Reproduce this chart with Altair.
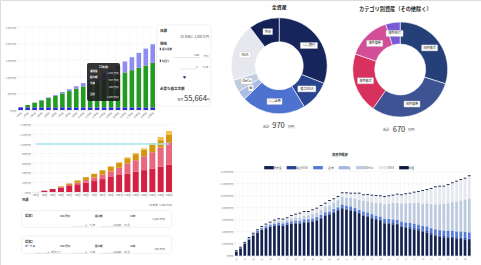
import altair as alt
import pandas as pd

FONT = "Noto Sans CJK JP"
W, H = 481, 265

# ---------------- Chart A : 目標シミュレーション (top-left) ----------------
a_years = ["1年後", "2年後", "3年後", "4年後", "5年後", "6年後", "7年後", "8年後", "9年後", "10年後",
           "11年後", "12年後", "13年後", "14年後", "15年後", "16年後", "17年後", "18年後", "19年後", "20年後"]
a_series = ["元本", "積立額", "運用益"]
a_colors = ["#2b2bd9", "#239b23", "#8d8def"]
a_base = [80, 80, 80, 80, 80, 80, 80, 80, 80, 80, 80, 80, 80, 80, 80, 80, 80, 80, 80, 80]
a_contrib = [0, 70, 140, 210, 280, 350, 420, 490, 560, 630, 700, 770, 840, 910, 980, 1050, 1120, 1190, 1260, 1340]
a_gain = [0, 0, 5, 10, 15, 25, 40, 55, 75, 100, 120, 150, 185, 225, 270, 330, 390, 450, 510, 560]
a_ticks = [0, 500, 1000, 1500, 2000, 2500]

# ---------------- Chart B : 積立シミュレーション (middle-left) ----------------
b_years = ["0年目", "1年目", "2年目", "3年目", "4年目", "5年目", "6年目", "7年目", "8年目", "9年目",
           "10年目", "11年目", "12年目", "13年目", "14年目", "15年目", "16年目"]
b_series = ["元本", "投資1", "投資2", "利益"]
b_colors = ["#d42143", "#e8697f", "#d4960c", "#f3c14f"]
b_red = [0, 28, 62, 90, 124, 159, 193, 228, 269, 310, 352, 386, 420, 455, 490, 531, 572]
b_pink = [0, 0, 0, 13, 21, 34, 55, 75, 97, 124, 151, 207, 242, 290, 338, 393, 462]
b_gold = [0, 0, 0, 14, 30, 45, 60, 75, 85, 90, 100, 110, 125, 135, 150, 155, 160]
b_light = [0, 0, 0, 0, 0, 0, 0, 0, 0, 10, 15, 20, 25, 30, 40, 65, 76]
b_goal = 1000
b_ticks = [0, 200, 400, 600, 800, 1000, 1200, 1400]

# ---------------- Donut 1 : 全資産 ----------------
d1_names = ["○○銀行", "積立NISA", "○○証券", "金", "iDeCo", "NISA", "外国"]
d1_values = [300, 100, 210, 30, 40, 190, 100]
d1_colors = ["#16255b", "#2a4590", "#4d72d0", "#a9bde8", "#c0cde0", "#e6e8ee", "#132156"]
d1_boxw = [8.5, 9, 7.5, 2.6, 5.5, 6, 4.8]

# ---------------- Donut 2 : カテゴリ別資産 ----------------
d2_names = ["国内株式", "国内債券", "海外株式", "海外債券", "海外REIT"]
d2_values = [200, 200, 138, 99, 33]
d2_colors = ["#253f78", "#3d5394", "#d8315e", "#d24f98", "#7b5bd5"]
d2_boxw = [8, 8, 8, 8, 8.5]

# ---------------- Chart C : 資産別推移 ----------------
c_periods = ["25", "26", "27", "28", "29", "30", "31", "32", "33", "34", "35", "36", "37", "38",
             "39", "40", "41", "42", "43", "44", "45", "46", "47", "48", "49", "50", "51", "52",
             "53", "54", "55", "56", "57", "58", "59", "60", "61", "62", "63", "64", "65", "66",
             "67", "68", "69", "70", "71", "72", "73", "74", "75", "76", "77", "78", "79", "80"]
c_series = ["預貯金", "積立NISA", "○○証券", "金", "iDeCo", "NISA", "外国"]
c_colors = ["#14224f", "#26449a", "#5478d4", "#a2b6e4", "#bccadf", "#e5e8ee", "#0e1a42"]
c_deposit = [670, 1220, 1950, 2670, 3340, 3840, 4280, 4560, 4780, 4950,
             5060, 4950, 5120, 5280, 5390, 5340, 5560, 5560, 5670, 5900,
             6230, 6670, 6780, 7170, 7450, 7900, 7700, 7560, 7280, 6950,
             6670, 6500, 6230, 5950, 5780, 5390, 5340, 5230, 5120, 4840,
             4670, 4560, 4390, 4230, 4000, 3890, 3560, 3340, 3170, 3060,
             3000, 2950, 2840, 2780, 2720, 2610]
c_tnisa = [0, 0, 20, 30, 40, 50, 60, 70, 80, 90,
           100, 100, 110, 110, 120, 120, 130, 130, 140, 140,
           150, 150, 150, 160, 160, 160, 170, 170, 170, 170,
           180, 180, 180, 180, 190, 190, 190, 200, 200, 200,
           210, 210, 210, 220, 220, 220, 230, 230, 230, 240,
           240, 240, 250, 250, 250, 260]
c_sec = [60, 100, 140, 170, 200, 230, 250, 270, 290, 300,
         310, 320, 330, 340, 350, 360, 370, 380, 390, 400,
         410, 420, 430, 440, 450, 460, 470, 480, 490, 500,
         510, 520, 530, 540, 550, 570, 590, 610, 630, 650,
         670, 690, 710, 730, 750, 780, 810, 840, 870, 900,
         920, 940, 960, 980, 1000, 1020]
c_gold = [20, 20, 30, 30, 40, 40, 40, 50, 50, 50,
          50, 50, 60, 60, 60, 60, 60, 70, 70, 70,
          70, 70, 70, 80, 80, 80, 80, 80, 80, 80,
          80, 80, 80, 90, 90, 90, 90, 90, 90, 90,
          100, 100, 100, 100, 100, 100, 100, 110, 110, 110,
          110, 110, 110, 120, 120, 120]
c_ideco = [0, 0, 20, 40, 60, 90, 120, 160, 200, 250,
           300, 340, 380, 430, 480, 520, 570, 620, 670, 720,
           800, 880, 960, 1040, 1120, 1200, 1280, 1400, 1500, 1600,
           1700, 1800, 1900, 2000, 2200, 2350, 2500, 2650, 2800, 2950,
           3100, 3250, 3400, 3500, 3600, 3750, 3900, 4050, 4200, 4350,
           4500, 4700, 4900, 5100, 5300, 5500]
c_nisa = [0, 10, 0, 0, 0, 0, 50, 80, 120, 210,
          260, 260, 240, 410, 450, 620, 610, 540, 640, 620,
          640, 500, 740, 520, 540, 610, 710, 660, 830, 1050,
          940, 1060, 1100, 1210, 1100, 1210, 1200, 1240, 1350, 1350,
          1500, 1540, 1710, 1850, 2130, 2230, 2540, 2840, 2940, 2860,
          3030, 3140, 3290, 3410, 3460, 3740]
c_foreign = [150, 150, 150, 150, 150, 150, 150, 150, 150, 150,
             150, 150, 150, 150, 150, 150, 150, 150, 150, 150,
             150, 150, 150, 150, 150, 150, 150, 150, 150, 150,
             150, 150, 150, 150, 150, 150, 150, 150, 150, 150,
             150, 150, 150, 150, 150, 150, 150, 150, 150, 150,
             150, 150, 150, 150, 150, 150]
c_ticks = [0, 2000, 4000, 6000, 8000, 10000, 12000, 14000]


def long_df(cats, series, lists, catname):
    rows = []
    for i, c in enumerate(cats):
        for k, (s, vals) in enumerate(zip(series, lists)):
            rows.append({catname: c, "series": s, "value": vals[i], "ord": k})
    return pd.DataFrame(rows)


LABEL_EXPR = "format(datum.value, ',') + '万円'"
GRID = "#ececec"

# plot-area geometry of each panel (layout, not data)
A_X, A_Y = [17.2, 156.2], [110, 27]
B_X, B_Y = [31.85, 173.15], [192, 124.7]
C_X, C_Y = [234.2, 471.4], [255.7, 171.7]


def band(domain, rng, pi):
    return alt.Scale(domain=domain, range=rng, paddingInner=pi, paddingOuter=pi / 2)


def lin(dmax, rng):
    return alt.Scale(domain=[0, dmax], range=rng, nice=False, zero=True)


def x_axis(offset, angle, values=None, fs=2.6):
    kw = dict(orient="bottom", offset=offset, title=None, labelAngle=angle, labelFontSize=fs,
              labelColor="#777", ticks=False, labelPadding=1.2, grid=False,
              domainColor="#dddddd", domainWidth=0.5, labelFont=FONT, labelOverlap=False)
    if values is not None:
        kw["values"] = values
    return alt.Axis(**kw)


def y_axis(offset, values, fs=2.6):
    return alt.Axis(orient="left", offset=offset, title=None, values=values, labelExpr=LABEL_EXPR,
                    labelFontSize=fs, labelColor="#777", ticks=False, labelPadding=1.5, grid=False,
                    domain=False, labelFont=FONT)


def hgrid(ticks, dmax, xr, yr):
    df = pd.DataFrame({"v": ticks})
    return alt.Chart(df).mark_rule(color=GRID, strokeWidth=0.4).encode(
        y=alt.Y("v:Q", scale=lin(dmax, yr), axis=None),
        x=alt.value(xr[0]), x2=alt.value(xr[1]))


def vgrid(cats, xr, pi, yr):
    df = pd.DataFrame({"c": cats})
    return alt.Chart(df).mark_rule(color="#f2f2f2", strokeWidth=0.4).encode(
        x=alt.X("c:N", sort=cats, scale=band(cats, xr, pi), axis=None, bandPosition=0),
        y=alt.value(yr[1]), y2=alt.value(yr[0]))


grids = [
    vgrid(a_years, A_X, 0.34, A_Y), hgrid(a_ticks, 2500, A_X, A_Y),
    vgrid(b_years, B_X, 0.28, B_Y), hgrid(b_ticks, 1400, B_X, B_Y),
    vgrid(c_periods, C_X, 0.36, C_Y), hgrid(c_ticks, 14000, C_X, C_Y),
]

# ---- Chart A layer
dfA = long_df(a_years, a_series, [a_base, a_contrib, a_gain], "year")
chartA = alt.Chart(dfA).mark_bar().encode(
    x=alt.X("year:N", sort=a_years, scale=band(a_years, A_X, 0.34), axis=x_axis(-(H - A_Y[0]), -45)),
    y=alt.Y("value:Q", stack="zero", scale=lin(2500, A_Y), axis=y_axis(-A_X[0], a_ticks, 2.4)),
    color=alt.Color("series:N", scale=alt.Scale(domain=a_series, range=a_colors), legend=None),
    order=alt.Order("ord:Q"),
)

# ---- Chart B layer
dfB = long_df(b_years, b_series, [b_red, b_pink, b_gold, b_light], "year")
chartB = alt.Chart(dfB).mark_bar().encode(
    x=alt.X("year:N", sort=b_years, scale=band(b_years, B_X, 0.28), axis=x_axis(-(H - B_Y[0]), 0, fs=2.3)),
    y=alt.Y("value:Q", stack="zero", scale=lin(1400, B_Y), axis=y_axis(-B_X[0], b_ticks, 2.4)),
    color=alt.Color("series:N", scale=alt.Scale(domain=b_series, range=b_colors), legend=None),
    order=alt.Order("ord:Q"),
)
dfGoal = pd.DataFrame({"start": [b_years[0]], "end": [b_years[-1]], "goal": [b_goal]})
goalB = alt.Chart(dfGoal).mark_rule(color="#a6e6ee", strokeWidth=1.4).encode(
    x=alt.X("start:N", scale=band(b_years, B_X, 0.28), axis=None),
    x2="end:N",
    y=alt.Y("goal:Q", scale=lin(1400, B_Y), axis=None),
)

# ---- Chart C layer
dfC = long_df(c_periods, c_series,
              [c_deposit, c_tnisa, c_sec, c_gold, c_ideco, c_nisa, c_foreign], "period")
chartC = alt.Chart(dfC).mark_bar().encode(
    x=alt.X("period:N", sort=c_periods, scale=band(c_periods, C_X, 0.36),
            axis=x_axis(-(H - C_Y[0]), -45, values=c_periods[::2], fs=2.3)),
    y=alt.Y("value:Q", stack="zero", scale=lin(14000, C_Y), axis=y_axis(-C_X[0], c_ticks, 2.5)),
    color=alt.Color("series:N", scale=alt.Scale(domain=c_series, range=c_colors),
                    legend=alt.Legend(orient="none", legendX=266, legendY=164.6, direction="horizontal",
                                      columns=7, title=None, labelFontSize=2.8, labelColor="#555",
                                      symbolType="M-1.6,-0.55H1.6V0.55H-1.6Z", symbolSize=36,
                                      symbolStrokeWidth=0, labelOffset=1.5, columnPadding=4.5,
                                      padding=0, labelFont=FONT)),
    order=alt.Order("ord:Q"),
)


# ---- Donuts
def donut_layers(names, values, colors, boxw, cx, cy, r_out, r_in, r_lab):
    df = pd.DataFrame({"name": names, "value": values, "idx": list(range(len(names))),
                       "path": [f"M{-w},-3H{w}V3H{-w}Z" for w in boxw]})
    arc = alt.Chart(df).mark_arc(outerRadius=r_out, innerRadius=r_in, stroke="white",
                                 strokeWidth=0.6).encode(
        theta=alt.Theta("value:Q", stack=True),
        color=alt.Color("name:N", scale=alt.Scale(domain=names, range=colors), legend=None),
        order=alt.Order("idx:Q"),
        x=alt.value(cx), y=alt.value(cy),
    )
    base = alt.Chart(df).transform_window(
        cum="sum(value)", sort=[alt.SortField("idx", order="ascending")], frame=[None, 0]
    ).transform_joinaggregate(total="sum(value)").transform_calculate(
        mid="(datum.cum - datum.value / 2) / datum.total * 2 * PI"
    ).transform_calculate(
        px=f"{cx} + {r_lab} * sin(datum.mid)", py=f"{cy} - {r_lab} * cos(datum.mid)"
    )
    box = base.mark_point(filled=True, color="white", stroke="#c4c4c4", strokeWidth=0.4,
                          opacity=1).encode(
        x=alt.X("px:Q", scale=None, axis=None), y=alt.Y("py:Q", scale=None, axis=None),
        shape=alt.Shape("path:N", scale=None), size=alt.value(4))
    lab = base.mark_text(fontSize=3.1, color="#222", align="center", baseline="middle",
                         font=FONT).encode(
        x=alt.X("px:Q", scale=None, axis=None), y=alt.Y("py:Q", scale=None, axis=None),
        text="name:N")
    return [arc, box, lab]


donut1 = donut_layers(d1_names, d1_values, d1_colors, d1_boxw, 279.2, 65.8, 48, 24, 36)
donut2 = donut_layers(d2_names, d2_values, d2_colors, d2_boxw, 400.2, 69.5, 47.5, 25.5, 36.5)

# ---- UI cards, tooltip, lines
cards = pd.DataFrame({
    "x": [156.7, 21.7, 21.7], "x2": [211, 171.7, 171.7],
    "y": [25, 210.7, 236], "y2": [106, 227.3, 253.3]})
cardLayer = alt.Chart(cards).mark_rect(fill="white", stroke="#e3e3e3", strokeWidth=0.5,
                                       cornerRadius=2).encode(
    x=alt.X("x:Q", scale=None, axis=None), x2="x2:Q",
    y=alt.Y("y:Q", scale=None, axis=None), y2="y2:Q")

tipbox = pd.DataFrame({"x": [87], "x2": [120], "y": [63], "y2": [101]})
tipLayer = alt.Chart(tipbox).mark_rect(fill="#1d1d1d", opacity=0.9, cornerRadius=2).encode(
    x=alt.X("x:Q", scale=None, axis=None), x2="x2:Q",
    y=alt.Y("y:Q", scale=None, axis=None), y2="y2:Q")

markers = pd.DataFrame({"x": [159.8, 159.8], "x2": [160.9, 160.9], "y": [47.8, 59.5], "y2": [50.2, 61.9]})
markerLayer = alt.Chart(markers).mark_rect(fill="#2b3a8f").encode(
    x=alt.X("x:Q", scale=None, axis=None), x2="x2:Q",
    y=alt.Y("y:Q", scale=None, axis=None), y2="y2:Q")

lines = pd.DataFrame({
    "x": [173, 180, 73.3, 101.7, 35, 73.3, 101.7],
    "x2": [200, 196.7, 88.3, 121.7, 50, 88.3, 121.7],
    "y": [57.5, 69.0, 226.3, 226.3, 253.3, 253.3, 253.3]})
lineLayer = alt.Chart(lines).mark_rule(color="#c8c8c8", strokeWidth=0.4).encode(
    x=alt.X("x:Q", scale=None, axis=None), x2="x2:Q",
    y=alt.Y("y:Q", scale=None, axis=None))

# ---- Texts: (text, x, y, size, color, align, weight)
TEXTS = [
    ("目標", 160, 31, 3.6, "#333", "left", "bold"),
    ("20 年後に 2,000 万円", 209, 37, 3.1, "#555", "right", "normal"),
    ("現在", 160, 43.5, 3.6, "#333", "left", "bold"),
    ("積立金額", 162, 49, 2.5, "#444", "left", "bold"),
    ("100", 199, 55.3, 2.8, "#555", "right", "normal"),
    ("万円", 208.5, 55.8, 2.5, "#777", "right", "normal"),
    ("利回り", 162, 60.7, 2.5, "#444", "left", "bold"),
    ("3", 197.5, 66.5, 2.8, "#555", "right", "normal"),
    ("%/年", 208.5, 67, 2.5, "#777", "right", "normal"),
    ("▼", 184.5, 77.7, 3.4, "#1f2d66", "center", "normal"),
    ("必要な積立金額", 160, 89.3, 3.5, "#333", "left", "bold"),
    ("毎月", 183.5, 100, 3, "#555", "right", "normal"),
    ("55,664", 195.5, 99, 7.5, "#333", "center", "normal"),
    ("円", 209.5, 100, 3, "#555", "right", "normal"),
    ("13年後", 103.5, 66.5, 2.8, "#ffffff", "center", "bold"),
    ("運用益", 90, 70.5, 2.5, "#ffffff", "left", "bold"),
    ("+ 242 万円", 118.5, 72.8, 2.5, "#eeeeee", "right", "normal"),
    ("積立額", 90, 76.5, 2.5, "#ffffff", "left", "bold"),
    ("667 万円", 118.5, 80, 2.5, "#eeeeee", "right", "normal"),
    ("元本", 90, 82.5, 2.5, "#ffffff", "left", "bold"),
    ("100 万円", 118.5, 87.3, 2.5, "#eeeeee", "right", "normal"),
    ("合計", 90, 94, 2.5, "#ffffff", "left", "bold"),
    ("1,009 万円", 118.5, 97.3, 2.5, "#eeeeee", "right", "normal"),
    ("目標", 22, 199.5, 3.2, "#333", "left", "bold"),
    ("20 年後: 1,000 万円", 172, 204.5, 2.7, "#666", "right", "normal"),
    ("投資1", 25, 215.5, 3, "#333", "left", "bold"),
    ("100 万円", 60, 215.7, 2.5, "#444", "left", "bold"),
    ("積立額", 95, 215.7, 2.5, "#444", "left", "bold"),
    ("20年", 130, 215.7, 2.5, "#444", "left", "bold"),
    ("1", 87, 224.8, 2.5, "#555", "right", "normal"),
    ("%/年", 89.5, 225.2, 2.5, "#777", "left", "normal"),
    ("10,000", 121, 224.8, 2.5, "#555", "right", "normal"),
    ("円/月", 124, 225.2, 2.5, "#777", "left", "normal"),
    ("1,020 万円", 165, 219.3, 2.7, "#555", "right", "normal"),
    ("投資2", 25, 242.3, 3, "#333", "left", "bold"),
    ("ボーナス", 25, 246.2, 2.5, "#1f2d66", "left", "bold"),
    ("100 万円", 60, 246.2, 2.5, "#444", "left", "bold"),
    ("積立額", 95, 246.2, 2.5, "#444", "left", "bold"),
    ("20年", 130, 246.2, 2.5, "#444", "left", "bold"),
    ("1", 49, 252, 2.5, "#555", "right", "normal"),
    ("年後から", 51, 252.4, 2.5, "#777", "left", "normal"),
    ("1", 87, 252, 2.5, "#555", "right", "normal"),
    ("%/年", 89.5, 252.4, 2.5, "#777", "left", "normal"),
    ("10,000", 121, 252, 2.5, "#555", "right", "normal"),
    ("円/月", 124, 252.4, 2.5, "#777", "left", "normal"),
    ("290 万円", 165, 249, 2.7, "#555", "right", "normal"),
    ("全資産", 279.2, 6.5, 5, "#222", "center", "bold"),
    ("合計", 266, 126.5, 3.3, "#333", "center", "normal"),
    ("970", 278.5, 126, 7.5, "#333", "center", "normal"),
    ("万円", 291, 126.5, 3.3, "#333", "center", "normal"),
    ("カテゴリ別資産（その他除く）", 395.3, 9.3, 5.2, "#222", "center", "bold"),
    ("合計", 386, 130, 3.3, "#333", "center", "normal"),
    ("670", 399, 129.5, 7.5, "#333", "center", "normal"),
    ("万円", 411, 130, 3.3, "#333", "center", "normal"),
    ("資産別推移", 340, 155, 3.2, "#333", "center", "bold"),
]
dfT = pd.DataFrame(TEXTS, columns=["t", "px", "py", "fs", "col", "align", "weight"])
textLayers = []
for (al, wt), sub in dfT.groupby(["align", "weight"]):
    textLayers.append(
        alt.Chart(sub.reset_index(drop=True)).mark_text(align=al, baseline="middle", fontWeight=wt,
                                                        font=FONT).encode(
            x=alt.X("px:Q", scale=None, axis=None), y=alt.Y("py:Q", scale=None, axis=None),
            text="t:N", size=alt.Size("fs:Q", scale=None), color=alt.Color("col:N", scale=None)))

layers = [cardLayer] + grids + [chartA, chartB, goalB, chartC] + donut1 + donut2 + \
         [tipLayer, markerLayer, lineLayer] + textLayers

chart = alt.layer(*layers).resolve_scale(
    x="independent", y="independent", color="independent", theta="independent"
).properties(
    width=W, height=H, padding=0, autosize=alt.AutoSizeParams(type="none")
).configure_view(stroke=None).configure(font=FONT, background="white")

chart.save("out.html", embed_options={"renderer": "svg", "actions": False})
